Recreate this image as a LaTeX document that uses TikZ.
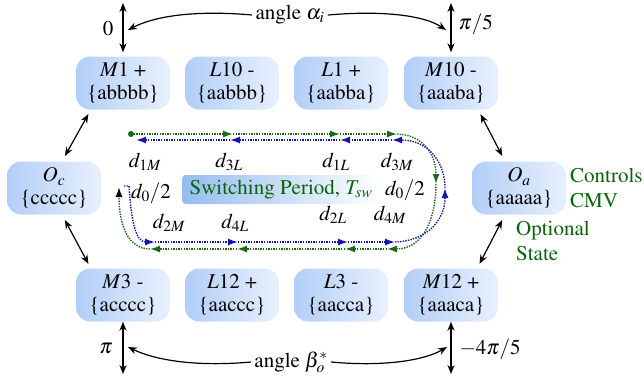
\documentclass[tikz,border=0pt]{standalone}
\usepackage[T1]{fontenc}
\usepackage{mathptmx}
\usepackage{xcolor}
\usetikzlibrary{arrows.meta}

\definecolor{grn}{RGB}{25,105,25}
\definecolor{blu}{RGB}{20,20,175}
\definecolor{txtgrn}{RGB}{10,100,10}
\definecolor{boxA}{RGB}{178,206,247}
\definecolor{boxB}{RGB}{232,240,253}
\definecolor{swA}{RGB}{150,188,240}

\tikzset{
  cmvbox/.style={rounded corners=14pt, minimum width=94pt, minimum height=53pt,
    inner sep=0pt, align=center, left color=boxA, right color=boxB},
  swbox/.style={rounded corners=3pt, minimum width=197pt, minimum height=29pt,
    inner sep=0pt, left color=swA, right color=white, text=txtgrn},
  dbl/.style={line width=1.2pt},
  gdot/.style={grn, line width=1.4pt, dash pattern=on 1.4pt off 1.2pt,
    -{Latex[length=10pt,width=7pt]}},
  bdot/.style={blu, line width=1.4pt, dash pattern=on 1.4pt off 1.2pt,
    -{Latex[length=10pt,width=7pt]}},
  gtxt/.style={text=txtgrn, align=left, anchor=west, inner sep=2pt}
}

\begin{document}
\begin{tikzpicture}[x=1pt, y=-1pt, font=\fontsize{21}{22.5}\selectfont,
  >={Stealth[length=9pt,width=7pt]}]
  \useasboundingbox (0,0) rectangle (644,381);

  % voltage vectors
  \foreach \nm/\x/\y/\txt in {
    M1/123/83/{$M1$ +\\\{abbbb\}}, L10/232/83/{$L10$ -\\\{aabbb\}},
    L1/341/83/{$L1$ +\\\{aabba\}}, M10/451/83/{$M10$ -\\\{aaaba\}},
    M3/123/295/{$M3$ -\\\{acccc\}}, L12/232/295/{$L12$ +\\\{aaccc\}},
    L3/341/295/{$L3$ -\\\{aacca\}}, M12/451/295/{$M12$ +\\\{aaaca\}},
    Oc/54/188/{$O_c$\\\{ccccc\}}, Oa/519/188/{$O_a$\\\{aaaaa\}}}
    \node[cmvbox] (\nm) at (\x,\y) {\txt};

  % angles
  \coordinate (top0) at (123,3);
  \coordinate (top1) at (451,3);
  \coordinate (bot0) at (123,374);
  \coordinate (bot1) at (451,374);
  \draw[dbl, <->, shorten >=4pt] (top0) -- (M1);
  \draw[dbl, <->, shorten >=4pt] (top1) -- (M10);
  \draw[dbl, <->] (M3) -- (bot0);
  \draw[dbl, <->] (M12) -- (bot1);
  \node (zero) at (108,29) {$0$};
  \node[anchor=west] (pi5) at (455,24) {$\pi/5$};
  \node (pi) at (106,348) {$\pi$};
  \node[anchor=west] (m4pi5) at (456,349) {$-4\pi/5$};

  \node (alpha) at (290,15) {angle $\alpha_i$};
  \node (beta) at (291,362) {angle $\beta_o^*$};
  \coordinate (a0) at (128,30);
  \coordinate (a1) at (446,30);
  \coordinate (b0) at (128,347);
  \coordinate (b1) at (447,347);
  \draw[dbl, ->] (alpha.west) .. controls (195,10) and (155,16) .. (a0);
  \draw[dbl, ->] (alpha.east) .. controls (385,10) and (425,16) .. (a1);
  \draw[dbl, ->] (beta.west) .. controls (195,367) and (155,360) .. (b0);
  \draw[dbl, ->] (beta.east) .. controls (385,367) and (425,360) .. (b1);

  % transitions to the zero vectors
  \draw[dbl, <->, shorten <=5pt, shorten >=6pt] ([xshift=15pt]M1.south west) -- ([xshift=8pt]Oc.north);
  \draw[dbl, <->, shorten <=6pt, shorten >=5pt] ([xshift=8pt]Oc.south) -- ([xshift=15pt]M3.north west);
  \draw[dbl, <->, shorten <=5pt, shorten >=6pt] ([xshift=-20pt]M10.south east) -- ([xshift=-14pt]Oa.north);
  \draw[dbl, <->, shorten <=6pt, shorten >=5pt] ([xshift=-14pt]Oa.south) -- ([xshift=-21pt]M12.north east);
  \node[gtxt] (ctrl) at (568,188) {Controls\\[3pt]CMV};
  \node[gtxt] (opt) at (514,241) {Optional\\[3pt]State};

  % switching period
  \node[swbox] (sw) at (281,189.5) {Switching Period, $T_{sw}$};
  \node (d1M) at (145,162) {$d_{1M}$};
  \node (d3L) at (229,162) {$d_{3L}$};
  \node (d1L) at (336,162) {$d_{1L}$};
  \node (d3M) at (397,162) {$d_{3M}$};
  \node (d2M) at (169,223) {$d_{2M}$};
  \node (d4L) at (235,223) {$d_{4L}$};
  \node (d2L) at (333,215) {$d_{2L}$};
  \node (d4M) at (390,215) {$d_{4M}$};
  \node (d0a) at (151,193) {$d_0/2$};
  \node (d0b) at (405,190) {$d_0/2$};

  % green sequence
  \fill[grn] (131,134) circle[radius=3pt];
  \foreach \a/\b in {131/233, 233/340, 340/397}
    \draw[gdot] (\a,134) -- (\b,134);
  \draw[gdot] (397,134) .. controls (424,135) and (436,155) .. (436,184);
  \draw[gdot] (436,184) .. controls (436,215) and (425,249) .. (387,249);
  \foreach \a/\b in {387/345, 345/237, 237/150}
    \draw[gdot] (\a,249) -- (\b,249);
  \draw[gdot, -{Latex[length=10pt,width=7pt,color=black]}] (150,249) .. controls (128,249) and (119,225) .. (119,187);

  % blue sequence
  \draw[bdot] (124,186) -- (129,186) .. controls (131,218) and (135,242) .. (155,242);
  \foreach \a/\b in {155/238, 238/348, 348/395}
    \draw[bdot] (\a,242) -- (\b,242);
  \draw[bdot] (395,242) .. controls (425,241) and (445,222) .. (445,188);
  \draw[bdot] (445,188) .. controls (445,162) and (428,140) .. (392,140);
  \foreach \a/\b in {392/340, 340/230, 230/136}
    \draw[bdot] (\a,140) -- (\b,140);
\end{tikzpicture}
\end{document}
